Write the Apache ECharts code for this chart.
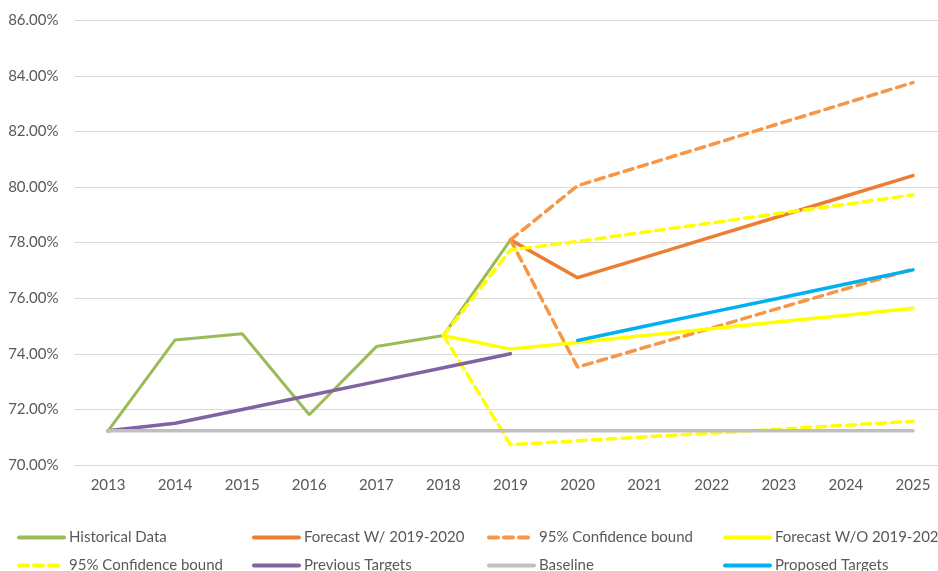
<!DOCTYPE html>
<html>
<head>
<meta charset="utf-8">
<script src="https://cdn.jsdelivr.net/npm/echarts@6/dist/echarts.min.js"></script>
<style>
  html, body { margin: 0; padding: 0; background: #fff; overflow: hidden; width: 938px; height: 571px; }
  /* canvas is wider than the window: the original picture is cut off at the right */
  #chart { width: 948px; height: 571px; }
</style>
</head>
<body>
<div id="chart"></div>
<script>
// years on the x axis
var years = ['2013', '2014', '2015', '2016', '2017', '2018', '2019', '2020', '2021', '2022', '2023', '2024', '2025'];

// values in percent, null where a series has no point
var historical   = [71.23, 74.50, 74.72, 71.81, 74.26, 74.66, 78.10, null, null, null, null, null, null];
var forecastW    = [null, null, null, null, null, null, 78.10, 76.74, 77.47, 78.21, 78.94, 79.68, 80.41];
var confWUpper   = [null, null, null, null, null, null, 78.10, 80.05, 80.79, 81.53, 82.28, 83.02, 83.76];
var confWLower   = [null, null, null, null, null, null, 78.10, 73.52, 74.23, 74.93, 75.64, 76.34, 77.05];
var forecastWO   = [null, null, null, null, null, 74.66, 74.17, 74.41, 74.66, 74.90, 75.15, 75.39, 75.64];
var confWOUpper  = [null, null, null, null, null, 74.66, 77.74, 78.04, 78.38, 78.71, 79.05, 79.38, 79.72];
var confWOLower  = [null, null, null, null, null, 74.66, 70.73, 70.87, 71.01, 71.15, 71.29, 71.43, 71.57];
var prevTargets  = [71.23, 71.50, 72.00, 72.50, 73.00, 73.50, 74.00, null, null, null, null, null, null];
var baseline     = [71.23, 71.23, 71.23, 71.23, 71.23, 71.23, 71.23, 71.23, 71.23, 71.23, 71.23, 71.23, 71.23];
var propTargets  = [null, null, null, null, null, null, null, 74.48, 74.99, 75.50, 76.00, 76.51, 77.02];

var FONT = 'Lato, sans-serif';
var TXT = '#595959';

function line(name, data, color, dashed, width) {
    return {
        name: name,
        type: 'line',
        data: data,
        symbol: 'none',
        connectNulls: false,
        lineStyle: { color: color, width: width || 3.5, type: dashed ? [9, 6] : 'solid', cap: 'round' },
        itemStyle: { color: color }
    };
}

// one legend block per entry, laid out in a 4 x 2 grid
function legendAt(name, left, top) {
    return {
        data: [name],
        left: left,
        top: top,
        padding: 0,
        itemWidth: 45,
        itemHeight: 14,
        selectedMode: false,
        itemStyle: { opacity: 0 },
        lineStyle: { width: 4 },
        formatter: function(n) { return n.replace(/ \(.*\)$/, ''); },
        textStyle: { color: TXT, fontSize: 15, fontFamily: FONT }
    };
}

var cols = [17, 252, 487, 723];
var rows = [530, 558];

var option = {
    backgroundColor: '#fff',
    animation: false,
    grid: { left: 74.5, width: 872, top: 20.3, height: 444.7 },
    legend: [
        legendAt('Historical Data', cols[0], rows[0]),
        legendAt('Forecast W/ 2019-2020', cols[1], rows[0]),
        legendAt('95% Confidence bound (W)', cols[2], rows[0]),
        legendAt('Forecast W/O 2019-2020', cols[3], rows[0]),
        legendAt('95% Confidence bound (WO)', cols[0], rows[1]),
        legendAt('Previous Targets', cols[1], rows[1]),
        legendAt('Baseline', cols[2], rows[1]),
        legendAt('Proposed Targets', cols[3], rows[1])
    ],
    xAxis: {
        type: 'category',
        data: years,
        boundaryGap: true,
        axisLine: { lineStyle: { color: '#d9d9d9' } },
        axisTick: { show: false },
        axisLabel: { color: TXT, fontSize: 15, fontFamily: FONT, margin: 13 }
    },
    yAxis: {
        type: 'value',
        min: 70,
        max: 86,
        interval: 2,
        axisLine: { show: false },
        axisTick: { show: false },
        splitLine: { lineStyle: { color: '#d9d9d9', width: 1 } },
        axisLabel: {
            color: TXT, fontSize: 15, fontFamily: FONT, margin: 16,
            formatter: function(v) { return v.toFixed(2) + '%'; }
        }
    },
    series: [
        line('Historical Data', historical, '#9bbb59', false, 3),
        line('Forecast W/ 2019-2020', forecastW, '#ed7d31'),
        line('95% Confidence bound (W)', confWUpper, '#f79646', true),
        line('95% Confidence bound (W)', confWLower, '#f79646', true),
        line('Forecast W/O 2019-2020', forecastWO, '#ffff00'),
        line('95% Confidence bound (WO)', confWOUpper, '#ffff00', true),
        line('95% Confidence bound (WO)', confWOLower, '#ffff00', true),
        line('Previous Targets', prevTargets, '#8064a2'),
        line('Baseline', baseline, '#bfbfbf'),
        line('Proposed Targets', propTargets, '#00b0f0')
    ]
};

var myChart = echarts.init(document.getElementById('chart'));
myChart.setOption(option);
</script>
</body>
</html>
